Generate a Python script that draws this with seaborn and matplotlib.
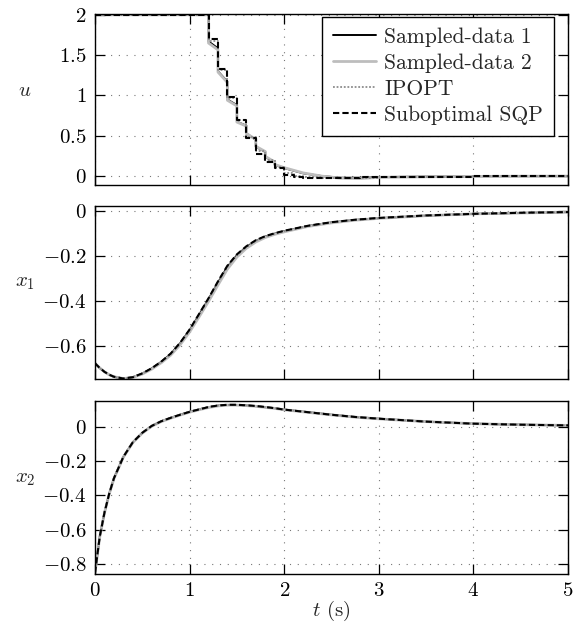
import matplotlib
matplotlib.use("Agg")
import matplotlib.pyplot as plt
from matplotlib.ticker import FixedLocator, FuncFormatter
import seaborn as sns
import pandas as pd

# ---------------- data ----------------
# control input u: sampled-data controllers (piecewise linear inside each sample period)
sd_t = [0.0, 1.2, 1.2, 1.3, 1.3, 1.4, 1.4, 1.5, 1.5, 1.6, 1.6, 1.7, 1.7, 1.8, 1.8,
        1.9, 1.9, 2.0, 2.2, 2.4, 2.6, 2.8, 3.0, 3.5, 4.0, 4.5, 5.0]
sd1_u = [2.0, 2.0, 1.67, 1.585, 1.30, 1.17, 0.95, 0.88, 0.675, 0.625, 0.53, 0.45,
         0.365, 0.30, 0.24, 0.17, 0.14, 0.10, 0.035, 0.0, -0.02, -0.02, -0.012,
         -0.006, -0.003, -0.001, 0.0]
sd2_u = [2.0, 2.0, 1.65, 1.565, 1.29, 1.16, 0.94, 0.87, 0.67, 0.62, 0.53, 0.455,
         0.37, 0.305, 0.245, 0.175, 0.145, 0.105, 0.04, 0.0, -0.025, -0.03, -0.015,
         -0.008, -0.004, -0.001, 0.0]
# piecewise constant solutions (IPOPT, suboptimal SQP)
step_t = [0.0, 1.2, 1.3, 1.4, 1.5, 1.6, 1.7, 1.8, 1.9, 2.0, 2.1, 2.2, 2.4, 2.6,
          2.8, 3.0, 3.5, 4.0, 5.0]
ipopt_u = [2.0, 1.68, 1.31, 0.97, 0.69, 0.48, 0.31, 0.20, 0.11, 0.04, 0.0, -0.012,
           -0.02, -0.022, -0.018, -0.011, -0.006, -0.003, -0.002]
sqp_u = [2.0, 1.70, 1.325, 0.985, 0.695, 0.47, 0.28, 0.175, 0.095, 0.01, -0.015,
         -0.02, -0.022, -0.02, -0.015, -0.01, -0.006, -0.003, -0.003]

# states
state_t = [0.0, 0.05, 0.1, 0.15, 0.2, 0.3, 0.4, 0.5, 0.6, 0.7, 0.8, 0.9, 1.0, 1.1,
           1.2, 1.3, 1.4, 1.5, 1.6, 1.7, 1.8, 1.9, 2.0, 2.25, 2.5, 2.75, 3.0, 3.5,
           4.0, 4.5, 5.0]
x1_sd1 = [-0.677, -0.698, -0.715, -0.728, -0.737, -0.745, -0.739, -0.723, -0.700,
          -0.671, -0.636, -0.588, -0.530, -0.462, -0.392, -0.318, -0.248, -0.197,
          -0.160, -0.133, -0.114, -0.101, -0.090, -0.067, -0.051, -0.040, -0.032,
          -0.021, -0.013, -0.009, -0.005]
x1_sd2 = [-0.677, -0.698, -0.715, -0.728, -0.737, -0.745, -0.740, -0.725, -0.703,
          -0.675, -0.641, -0.595, -0.538, -0.471, -0.402, -0.329, -0.258, -0.205,
          -0.166, -0.138, -0.118, -0.104, -0.093, -0.069, -0.053, -0.041, -0.033,
          -0.021, -0.013, -0.009, -0.005]
x1_ipopt = x1_sd1
x1_sqp = [-0.677, -0.698, -0.715, -0.728, -0.737, -0.745, -0.739, -0.722, -0.699,
          -0.670, -0.634, -0.586, -0.527, -0.458, -0.388, -0.313, -0.243, -0.193,
          -0.157, -0.130, -0.112, -0.099, -0.088, -0.066, -0.050, -0.039, -0.031,
          -0.020, -0.013, -0.008, -0.005]

x2_sd1 = [-0.850, -0.640, -0.500, -0.390, -0.300, -0.175, -0.090, -0.035, 0.005,
          0.032, 0.052, 0.070, 0.087, 0.101, 0.114, 0.123, 0.127, 0.127, 0.124,
          0.120, 0.114, 0.108, 0.100, 0.085, 0.070, 0.057, 0.047, 0.030, 0.018,
          0.012, 0.008]
x2_sd2 = [-0.850, -0.642, -0.502, -0.392, -0.302, -0.177, -0.092, -0.037, 0.003,
          0.030, 0.050, 0.068, 0.085, 0.099, 0.112, 0.121, 0.126, 0.126, 0.123,
          0.119, 0.113, 0.107, 0.099, 0.084, 0.069, 0.056, 0.046, 0.030, 0.018,
          0.012, 0.008]
x2_ipopt = x2_sd1
x2_sqp = [-0.850, -0.640, -0.500, -0.390, -0.300, -0.175, -0.090, -0.035, 0.005,
          0.032, 0.052, 0.070, 0.087, 0.101, 0.115, 0.124, 0.128, 0.128, 0.125,
          0.121, 0.115, 0.108, 0.100, 0.085, 0.070, 0.057, 0.047, 0.030, 0.018,
          0.012, 0.008]

labels = ["Sampled-data 1", "Sampled-data 2", "IPOPT", "Suboptimal SQP"]
x_ticks = [0, 1, 2, 3, 4, 5]
u_ticks = [0, 0.5, 1, 1.5, 2]
x1_ticks = [-0.6, -0.4, -0.2, 0]
x2_ticks = [-0.8, -0.6, -0.4, -0.2, 0]

# ---------------- style ----------------
sns.set_theme(style="white")
plt.rcParams.update({
    "font.family": "serif",
    "font.serif": ["cmr10", "DejaVu Serif"],
    "mathtext.fontset": "cm",
    "axes.formatter.use_mathtext": True,
    "axes.unicode_minus": True,
    "font.size": 15,
})

FS = 15
LFS = 15.5
styles = {
    "Sampled-data 1": dict(color="black", lw=1.4, linestyle="-"),
    "Sampled-data 2": dict(color="#bdbdbd", lw=2.0, linestyle="-"),
    "IPOPT": dict(color="#8c8c8c", lw=1.3, linestyle=(0, (1, 1))),
    "Suboptimal SQP": dict(color="black", lw=1.5, linestyle=(0, (3, 1.5))),
}

fig = plt.figure(figsize=(5.74, 6.23), dpi=100)
W = 574.0
H = 623.0
left = 95.0 / W
width = 473.0 / W
ax_u = fig.add_axes([left, 1 - 185 / H, width, 171 / H])
ax_1 = fig.add_axes([left, 1 - 379 / H, width, 173 / H])
ax_2 = fig.add_axes([left, 1 - 574 / H, width, 173 / H])


def fmt(v, pos):
    v = round(v, 6)
    if v == 0:
        v = 0.0
    return "$%g$" % v


# u panel
u_series = [(sd_t, sd1_u, None), (sd_t, sd2_u, None),
            (step_t, ipopt_u, "steps-post"), (step_t, sqp_u, "steps-post")]
for lab, (tt, yy, ds) in zip(labels, u_series):
    df = pd.DataFrame({"t": tt, "v": yy})
    kw = dict(styles[lab])
    if ds:
        kw["drawstyle"] = ds
    sns.lineplot(data=df, x="t", y="v", ax=ax_u, sort=False, estimator=None,
                 label=lab, **kw)

# x1 panel
for lab, yy in zip(labels, [x1_sd1, x1_sd2, x1_ipopt, x1_sqp]):
    df = pd.DataFrame({"t": state_t, "v": yy})
    sns.lineplot(data=df, x="t", y="v", ax=ax_1, sort=False, estimator=None,
                 legend=False, **styles[lab])

# x2 panel
for lab, yy in zip(labels, [x2_sd1, x2_sd2, x2_ipopt, x2_sqp]):
    df = pd.DataFrame({"t": state_t, "v": yy})
    sns.lineplot(data=df, x="t", y="v", ax=ax_2, sort=False, estimator=None,
                 legend=False, **styles[lab])

panels = [(ax_u, u_ticks, (-0.11, 2.01), "$u$"),
          (ax_1, x1_ticks, (-0.747, 0.022), "$x_1$"),
          (ax_2, x2_ticks, (-0.857, 0.15), "$x_2$")]
for ax, yt, yl, name in panels:
    ax.set_xlim(0, 5)
    ax.set_ylim(*yl)
    ax.xaxis.set_major_locator(FixedLocator(x_ticks))
    ax.yaxis.set_major_locator(FixedLocator(yt))
    ax.yaxis.set_major_formatter(FuncFormatter(fmt))
    ax.xaxis.set_major_formatter(FuncFormatter(fmt))
    ax.grid(True, which="major", color="#777777", linestyle=(0, (1, 6)), lw=0.8)
    ax.tick_params(direction="in", length=7, width=0.9, top=True, right=True,
                   left=True, bottom=True, labelsize=FS, pad=6, colors="black")
    for s in ax.spines.values():
        s.set_color("black")
        s.set_linewidth(1.0)
    ax.set_ylabel(name, rotation=0, fontsize=FS)
    ax.yaxis.set_label_coords(-0.148, 0.5)
    ax.set_xlabel("")

ax_u.tick_params(labelbottom=False)
ax_1.tick_params(labelbottom=False)
ax_2.set_xlabel("$t$ (s)", fontsize=FS, labelpad=-1)

leg = ax_u.legend(loc="upper right", bbox_to_anchor=(0.97, 0.985),
                  borderaxespad=0, fontsize=LFS, frameon=True, fancybox=False,
                  framealpha=1, edgecolor="black", handlelength=2.0,
                  handletextpad=0.4, labelspacing=0.3, borderpad=0.5)
leg.get_frame().set_linewidth(1.0)

fig.savefig("out.png", dpi=100, facecolor="white")
